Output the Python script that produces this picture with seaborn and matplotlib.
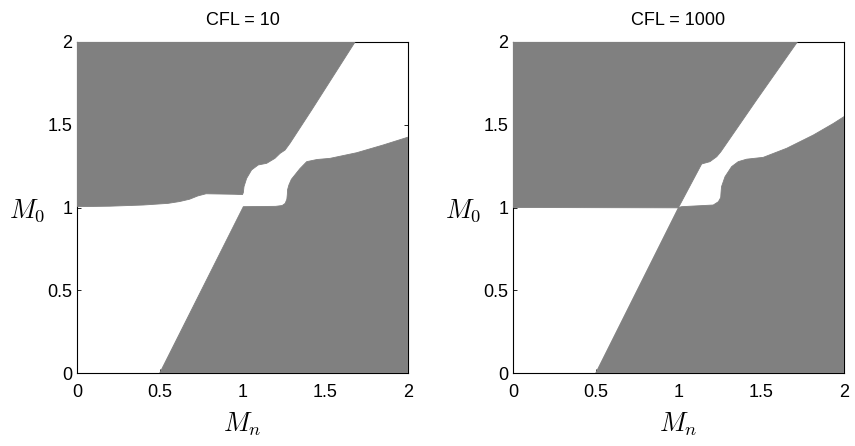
import matplotlib
matplotlib.use("Agg")
import matplotlib.pyplot as plt
import seaborn as sns
import pandas as pd

# ---- data: stability-region boundaries ----
titles = ["CFL = 10", "CFL = 1000"]
ticks = [0, 0.5, 1, 1.5, 2]
tick_labels = ["0", "0.5", "1", "1.5", "2"]

# CFL = 10 : upper-left gray region boundary (below it is white)
upper_x_10 = [0.0, 0.2, 0.4, 0.55, 0.62, 0.68, 0.73, 0.78, 0.95, 1.0, 1.005, 1.009,
              1.025, 1.055, 1.095, 1.146, 1.196, 1.227, 1.257, 1.287, 1.418, 1.68]
upper_y_10 = [1.005, 1.008, 1.015, 1.025, 1.036, 1.05, 1.07, 1.083, 1.08, 1.078, 1.09, 1.126,
              1.176, 1.227, 1.257, 1.267, 1.297, 1.327, 1.347, 1.388, 1.589, 2.0]
# CFL = 10 : lower-right gray region boundary (above it is white)
lower_x_10 = [0.5, 1.005, 1.2, 1.24, 1.258, 1.268, 1.271, 1.272, 1.28, 1.295, 1.327,
              1.347, 1.388, 1.45, 1.529, 1.69, 1.851, 2.0]
lower_y_10 = [0.0, 1.005, 1.007, 1.012, 1.025, 1.05, 1.08, 1.106, 1.135, 1.17, 1.21,
              1.235, 1.277, 1.29, 1.297, 1.331, 1.378, 1.425]

# CFL = 1000
upper_x_1000 = [0.0, 0.5, 0.999, 1.14, 1.165, 1.19, 1.231, 1.256, 1.472, 1.718]
upper_y_1000 = [1.0, 0.999, 0.998, 1.263, 1.27, 1.277, 1.307, 1.337, 1.65, 2.0]
lower_x_1000 = [0.5, 1.0, 1.019, 1.21, 1.241, 1.255, 1.257, 1.26, 1.281, 1.321, 1.361,
                1.412, 1.512, 1.654, 1.815, 1.936, 2.0]
lower_y_1000 = [0.0, 1.0, 1.005, 1.015, 1.035, 1.06, 1.09, 1.126, 1.186, 1.247, 1.277,
                1.292, 1.303, 1.358, 1.438, 1.508, 1.549]

panels = [
    (upper_x_10, upper_y_10, lower_x_10, lower_y_10),
    (upper_x_1000, upper_y_1000, lower_x_1000, lower_y_1000),
]

sns.set_theme(style="white")
plt.rcParams["font.family"] = ["Liberation Sans", "DejaVu Sans"]
plt.rcParams["mathtext.fontset"] = "cm"

GRAY = "#808080"
fig = plt.figure(figsize=(8.55, 4.46), dpi=100)
lefts = [77 / 855, 513 / 855]

for i, (ux, uy, lx, ly) in enumerate(panels):
    ax = fig.add_axes([lefts[i], 73 / 446, 331 / 855, 331 / 446])
    ax.set_xlim(0, 2)
    ax.set_ylim(0, 2)

    # upper-left gray region
    px = list(ux) + [0.0, 0.0]
    py = list(uy) + [2.0, uy[0]]
    ax.fill(px, py, color=GRAY, lw=0, zorder=3)
    # lower-right gray region
    qx = list(lx) + [2.0, lx[0]]
    qy = list(ly) + [0.0, 0.0]
    ax.fill(qx, qy, color=GRAY, lw=0, zorder=3)

    sns.lineplot(data=pd.DataFrame({"x": ux, "y": uy}), x="x", y="y", sort=False,
                 color=GRAY, lw=0.6, ax=ax, zorder=3)
    sns.lineplot(data=pd.DataFrame({"x": lx, "y": ly}), x="x", y="y", sort=False,
                 color=GRAY, lw=0.6, ax=ax, zorder=3)

    for sp in ax.spines.values():
        sp.set_visible(True)
        sp.set_color("black")
        sp.set_linewidth(0.8)
        sp.set_zorder(2)

    ax.set_xticks(ticks)
    ax.set_xticklabels(tick_labels)
    ax.set_yticks(ticks)
    ax.set_yticklabels(tick_labels)
    ax.tick_params(direction="in", length=3, width=0.6, color="black",
                   top=True, right=True, bottom=True, left=True,
                   labelsize=13, labelcolor="black")
    ax.tick_params(axis="x", pad=8)
    ax.tick_params(axis="y", pad=3.5)

    ax.set_xlabel(r"$M_n$", fontsize=19, labelpad=7, color="black")
    ax.set_ylabel(r"$M_0$", fontsize=19, rotation=0, color="black")
    ax.yaxis.set_label_coords(-0.15, 0.49)
    ax.yaxis.label.set_va("center")
    ax.set_title(titles[i], fontsize=13, pad=12, color="black")
    ax.grid(False)

fig.savefig("out.png", dpi=100)
